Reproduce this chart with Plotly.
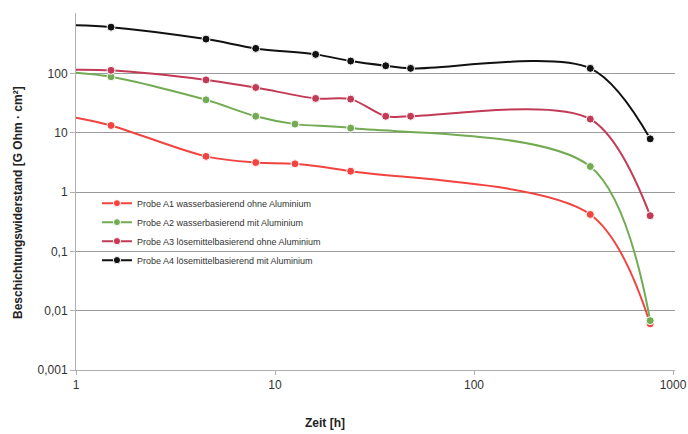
import plotly.graph_objects as go

# Data (time in hours, coating resistance in G Ohm·cm²)
x_a1 = [1, 1.5, 4.5, 8, 12.6, 24, 384, 768]
y_a1 = [18, 13.3, 4.0, 3.15, 3.0, 2.25, 0.42, 0.006]

x_a2 = [1, 1.5, 4.5, 8, 12.6, 24, 384, 768]
y_a2 = [103, 88, 36, 19, 14, 12, 2.7, 0.0068]

x_a3 = [1, 1.5, 4.5, 8, 16, 24, 36, 48, 384, 768]
y_a3 = [116, 113, 78, 58, 38, 37, 19, 19, 17, 0.40]

x_a4 = [1, 1.5, 4.5, 8, 16, 24, 36, 48, 384, 768]
y_a4 = [650, 605, 380, 265, 210, 162, 135, 122, 122, 7.9]

names = [
    "Probe A1 wasserbasierend ohne Aluminium",
    "Probe A2 wasserbasierend mit Aluminium",
    "Probe A3 lösemittelbasierend ohne Aluminium",
    "Probe A4 lösemittelbasierend mit Aluminium",
]
colors = ["#f2433f", "#72ab52", "#c23a55", "#111111"]

y_tickvals = [0.001, 0.01, 0.1, 1, 10, 100]
y_ticktext = ["0,001", "0,01", "0,1", "1", "10", "100"]
x_tickvals = [1, 10, 100, 1000]
x_ticktext = ["1", "10", "100", "1000"]

fig = go.Figure()
series = [(x_a1, y_a1), (x_a2, y_a2), (x_a3, y_a3), (x_a4, y_a4)]
for (xs, ys), name, col in zip(series, names, colors):
    sizes = [0] + [8] * (len(xs) - 1)
    fig.add_trace(go.Scatter(
        x=xs, y=ys, name=name, mode="lines+markers",
        line=dict(color=col, width=2, shape="spline", smoothing=0.9),
        marker=dict(color=col, size=sizes, opacity=1),
    ))

W, H = 688, 434
L, R, T, B = 76, 13, 13, 64
pw, ph = W - L - R, H - T - B

fig.update_layout(
    width=W, height=H,
    margin=dict(l=L, r=R, t=T, b=B),
    paper_bgcolor="white", plot_bgcolor="white",
    font=dict(family="Liberation Sans", color="#333333", size=12),
    showlegend=True,
    legend=dict(
        x=0.035, y=0.508, xanchor="left", yanchor="top",
        font=dict(size=9, color="#333333"),
        bgcolor="rgba(255,255,255,0)",
        tracegroupgap=0, itemwidth=30,
    ),
    annotations=[
        dict(text="<b>Zeit [h]</b>", xref="paper", yref="paper",
             x=(325 - 76) / pw, y=-(423 - 370) / ph,
             xanchor="center", yanchor="middle", showarrow=False,
             font=dict(size=12, color="#222222")),
        dict(text="<b>Beschichtungswiderstand [G Ohm · cm²]</b>", xref="paper", yref="paper",
             x=-(76 - 18) / pw, y=(370 - 203) / ph,
             xanchor="center", yanchor="middle", showarrow=False, textangle=-90,
             font=dict(size=12, color="#222222")),
    ],
)
fig.update_xaxes(
    type="log", range=[0, 3.01], automargin=False,
    tickvals=x_tickvals, ticktext=x_ticktext,
    showgrid=False, showline=True, linecolor="#b0b0b0", linewidth=1,
    ticks="outside", ticklen=4, tickcolor="#b0b0b0",
    tickfont=dict(size=12, color="#333333"),
    zeroline=False,
)
fig.update_yaxes(
    type="log", range=[-3, 3.02], automargin=False,
    tickvals=y_tickvals, ticktext=y_ticktext,
    showgrid=True, gridcolor="#9a9a9a", gridwidth=1,
    showline=True, linecolor="#b0b0b0", linewidth=1,
    ticks="outside", ticklen=5, tickcolor="#b0b0b0",
    tickfont=dict(size=12, color="#333333"),
    zeroline=False,
)

fig.write_html(
    "out.html",
    config={"displayModeBar": False},
    post_script="document.body.style.margin='0';document.body.style.overflow='hidden';",
)
